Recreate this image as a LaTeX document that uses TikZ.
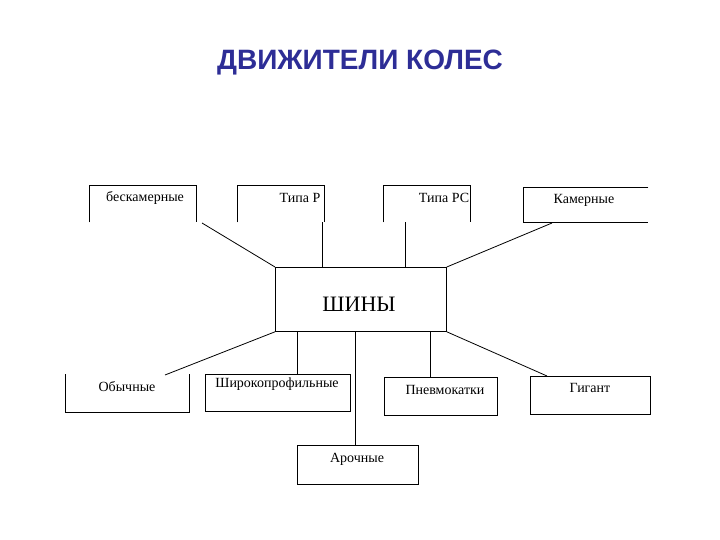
\documentclass[tikz,border=0pt]{standalone}
\usepackage{fontspec}
\setmainfont{Liberation Serif}
\newfontfamily\titlefont{Liberation Sans}
\definecolor{ttl}{RGB}{45,45,150}
\begin{document}
\begin{tikzpicture}[x=1pt,y=-1pt,
  box/.style={minimum width=#1, minimum height=37pt, inner sep=0pt},
  lab/.style={inner sep=0pt, font=\fontsize{14}{16}\selectfont},
  ln/.style={line width=0.8pt}]
\useasboundingbox (0,0) rectangle (720,540);
\node[font=\titlefont\bfseries\fontsize{28}{32}\selectfont, text=ttl] (title) at (360,63) {ДВИЖИТЕЛИ КОЛЕС};
% top boxes
\node[box=107pt, anchor=north west] (b1) at (89,185) {};
\node[lab] (t1) at (145,198) {бескамерные};
\draw[ln] (b1.south west) -- (b1.north west) -- (b1.north east) -- (b1.south east);
\node[box=87pt, anchor=north west] (b2) at (237,185) {};
\node[lab] (t2) at (300,198) {Типа Р};
\draw[ln] (b2.south west) -- (b2.north west) -- (b2.north east) -- (b2.south east);
\node[box=87pt, anchor=north west] (b3) at (383,185) {};
\node[lab] (t3) at (444,198) {Типа РС};
\draw[ln] (b3.south west) -- (b3.north west) -- (b3.north east) -- (b3.south east);
\node[box=125pt, minimum height=35pt, anchor=north west] (b4) at (523,187) {};
\node[lab] (t4) at (584,200) {Камерные};
\draw[ln] (b4.north east) -- (b4.north west) -- (b4.south west) -- (b4.south east);
% center
\node[draw, ln, minimum width=171pt, minimum height=64pt, inner sep=0pt, anchor=north west] (c) at (275,267) {};
\node[font=\fontsize{22}{24}\selectfont] (ct) at (359,304) {ШИНЫ};
% bottom boxes
\node[box=124pt, minimum height=38pt, anchor=north west] (d1) at (65,374) {};
\node[lab] (u1) at (127,387) {Обычные};
\draw[ln] (d1.north west) -- (d1.south west) -- (d1.south east) -- (d1.north east);
\node[draw, ln, box=145pt, anchor=north west] (d2) at (205,374) {};
\node[lab] (u2) at (277,384) {Широкопрофильные};
\node[draw, ln, box=113pt, minimum height=38pt, anchor=north west] (d3) at (384,377) {};
\node[lab] (u3) at (445,390) {Пневмокатки};
\node[draw, ln, box=120pt, minimum height=38pt, anchor=north west] (d4) at (530,376) {};
\node[lab] (u4) at (590,388) {Гигант};
\node[draw, ln, box=121pt, minimum height=39pt, anchor=north west] (d5) at (297,445) {};
\node[lab] (u5) at (357,459) {Арочные};
% connectors
\coordinate (p1) at (202,223); \coordinate (p4) at (552,223); \coordinate (q1) at (165,375);
\coordinate (q4) at (547,376);
\draw[ln] (p1) -- (c.north west);
\draw[ln] (c.north -| 322,0) -- (322,222);
\draw[ln] (c.north -| 405,0) -- (405,222);
\draw[ln] (p4) -- (c.north east);
\draw[ln] (c.south west) -- (q1);
\draw[ln] (c.south -| 297,0) -- (d2.north -| 297,0);
\draw[ln] (c.south -| 355,0) -- (d5.north -| 355,0);
\draw[ln] (c.south -| 430,0) -- (d3.north -| 430,0);
\draw[ln] (c.south east) -- (q4);
\end{tikzpicture}
\end{document}
